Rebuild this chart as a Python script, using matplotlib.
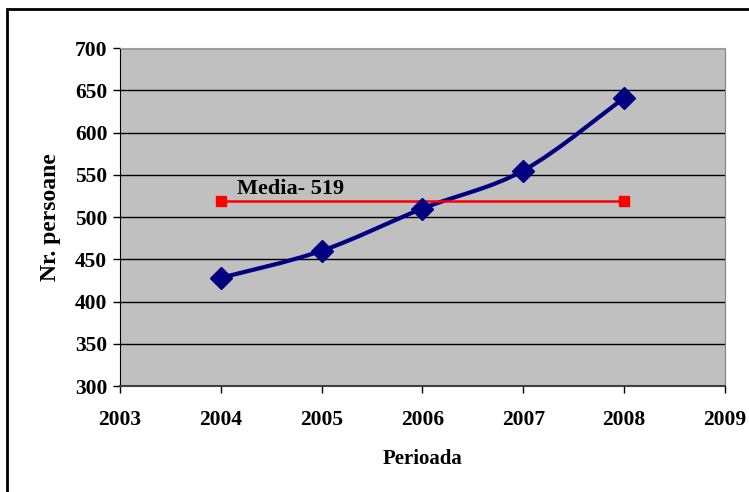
import matplotlib.pyplot as plt
from matplotlib.path import Path
from matplotlib.patches import PathPatch, Rectangle
import numpy as np

# data
years = [2004, 2005, 2006, 2007, 2008]
persons = [428, 460, 510, 555, 641]
mean_value = 519
x_ticks = [2003, 2004, 2005, 2006, 2007, 2008, 2009]
y_ticks = [300, 350, 400, 450, 500, 550, 600, 650, 700]

plt.rcParams['font.family'] = ['Liberation Serif', 'DejaVu Serif']
plt.rcParams['font.weight'] = 'bold'


def smooth_path(xs, ys, tension=1 / 6):
    # Excel-like smoothed line through the points (cubic Bezier segments)
    pts = np.column_stack([xs, ys]).astype(float)
    verts = [pts[0]]
    codes = [Path.MOVETO]
    n = len(pts)
    for i in range(n - 1):
        p0 = pts[i - 1] if i > 0 else pts[i]
        p1 = pts[i]
        p2 = pts[i + 1]
        p3 = pts[i + 2] if i + 2 < n else pts[i + 1]
        c1 = p1 + (p2 - p0) * tension
        c2 = p2 - (p3 - p1) * tension
        verts += [c1, c2, p2]
        codes += [Path.CURVE4] * 3
    return Path(verts, codes)


fig = plt.figure(figsize=(7.49, 4.92), dpi=100)
ax = fig.add_axes([0.160, 0.2154, 0.808, 0.687])
ax.set_facecolor('#C0C0C0')

ax.add_patch(PathPatch(smooth_path(years, persons), facecolor='none',
                       edgecolor='#000080', lw=3, zorder=3))
ax.plot(years, persons, ls='none', marker='D', ms=11.5, color='#000080', zorder=4)

ax.plot([years[0], years[-1]], [mean_value, mean_value], color='#FF0000', lw=1.8,
        marker='s', ms=7.5, zorder=3)
ax.text(2004.16, 521, 'Media- ' + str(mean_value), fontsize=16, fontweight='bold',
        ha='left', va='bottom', zorder=5)

ax.set_xlim(2003, 2009)
ax.set_ylim(300, 700)
ax.set_xticks(x_ticks)
ax.set_yticks(y_ticks)
ax.yaxis.grid(True, color='black', lw=1)
ax.set_axisbelow(True)
ax.tick_params(labelsize=15.5, length=5, width=1, color='black', direction='out', pad=4)
ax.tick_params(axis='x', pad=12)
for lbl in ax.get_xticklabels() + ax.get_yticklabels():
    lbl.set_fontweight('bold')

ax.spines['left'].set_color('black')
ax.spines['bottom'].set_color('#404040')
ax.spines['bottom'].set_linewidth(1.5)
ax.spines['right'].set_color('#808080')
ax.spines['top'].set_color('#A0A0A0')

ax.set_xlabel('Perioada', fontsize=15, fontweight='bold', labelpad=14)
ax.set_ylabel('Nr. persoane', fontsize=17, fontweight='bold', labelpad=10)

# outer chart border
fig.patches.append(Rectangle((7 / 749, -0.05), 1.1, 1 - 9 / 492 + 0.05,
                             transform=fig.transFigure, fill=False,
                             edgecolor='black', lw=2))

fig.savefig('out.png', dpi=100)
